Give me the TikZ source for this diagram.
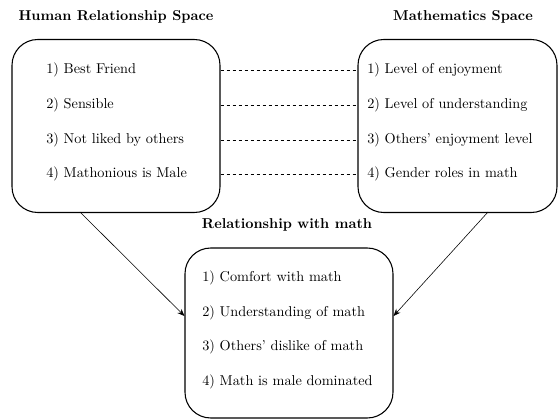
\documentclass[tikz,border=0pt]{standalone}
\usetikzlibrary{arrows.meta}
\begin{document}
\begin{tikzpicture}[x=0.7pt,y=-0.7pt,
  box/.style={draw,line width=0.75pt,rounded corners=18pt,inner sep=0pt},
  item/.style={anchor=west,inner sep=0pt,font=\normalsize},
  title/.style={font=\bfseries,inner sep=0pt},
  link/.style={dash pattern=on 2.1pt off 2.1pt,thin},
  flow/.style={-{Stealth[length=5pt,width=4pt]},thin}]
\useasboundingbox (0,0) rectangle (558,419);
% boxes
\node[box,minimum width=208*0.7pt,minimum height=173*0.7pt] (human) at (116,126) {};
\node[box,minimum width=199*0.7pt,minimum height=173*0.7pt] (maths) at (457.5,126) {};
\node[box,minimum width=208*0.7pt,minimum height=170*0.7pt] (rel) at (289,333) {};
% titles
\node[title] (th) at (116,17) {Human Relationship Space};
\node[title] (tm) at (463,17) {Mathematics Space};
\node[title] (tr) at (287,225) {Relationship with math};
% left items
\node[item] (h1) at (46,70) {1) Best Friend};
\node[item] (h2) at (46,105) {2) Sensible};
\node[item] (h3) at (46,140) {3) Not liked by others};
\node[item] (h4) at (46,174) {4) Mathonious is Male};
% right items
\node[item] (m1) at (367,70) {1) Level of enjoyment};
\node[item] (m2) at (367,105) {2) Level of understanding};
\node[item] (m3) at (367,140) {3) Others' enjoyment level};
\node[item] (m4) at (367,174) {4) Gender roles in math};
% bottom items
\node[item] (r1) at (202,278) {1) Comfort with math};
\node[item] (r2) at (202,313) {2) Understanding of math};
\node[item] (r3) at (202,347) {3) Others' dislike of math};
\node[item] (r4) at (202,382) {4) Math is male dominated};
% dashed links
\foreach \i in {1,...,4}
  \draw[link] (h\i -| human.east) -- (m\i -| maths.west);
% arrows
\coordinate (hs) at (80,212);
\coordinate (ms) at (488,212);
\draw[flow] (hs) -- (rel.west |- 0,316);
\draw[flow] (ms) -- (rel.east |- 0,316);
\end{tikzpicture}
\end{document}
